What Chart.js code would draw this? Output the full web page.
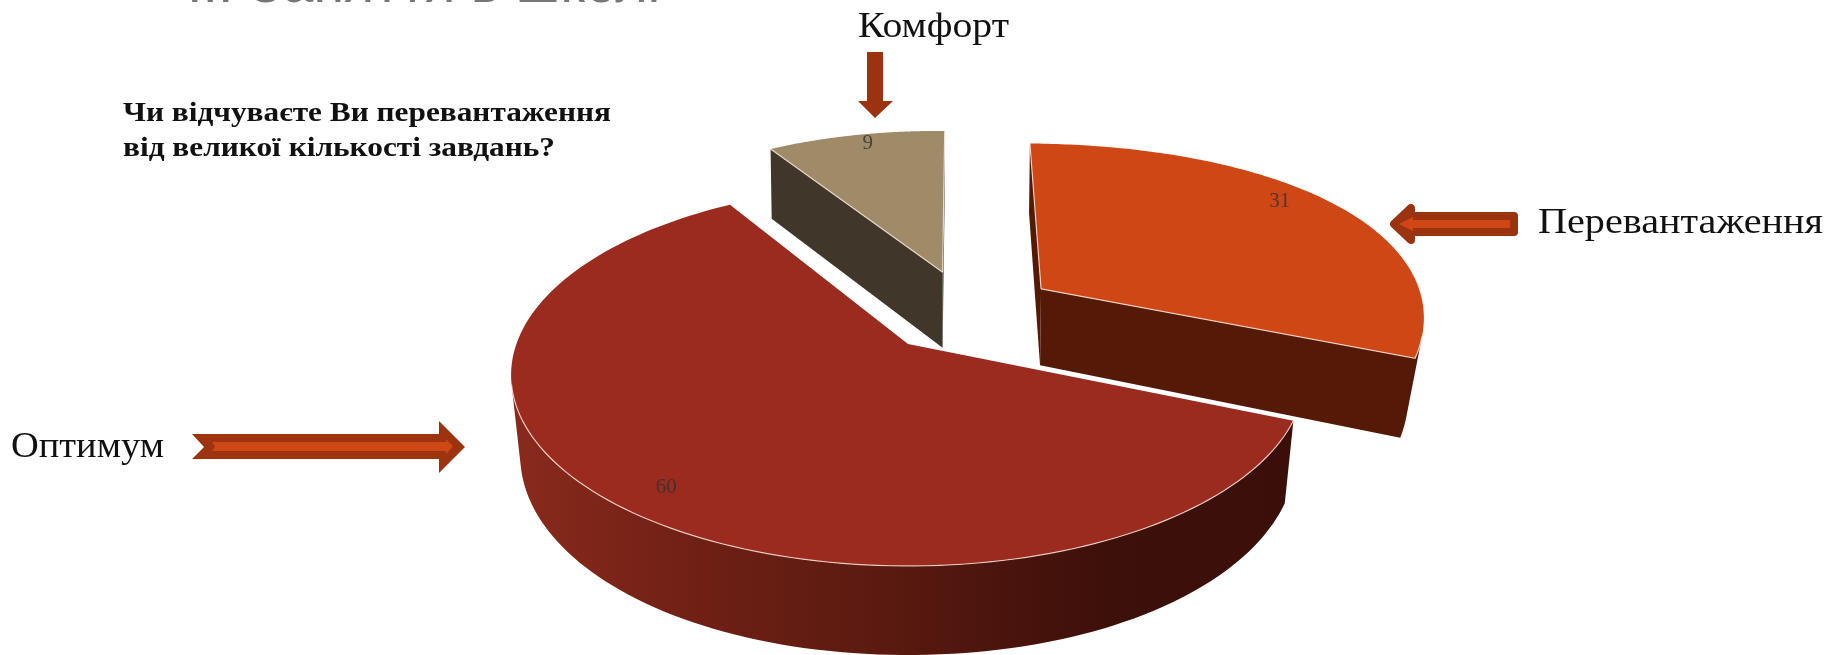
<!DOCTYPE html>
<html lang="uk"><head><meta charset="utf-8">
<style>html,body{margin:0;padding:0;background:#fff}canvas{display:block}</style>
<script src="https://cdn.jsdelivr.net/npm/chart.js@4/dist/chart.umd.min.js"></script>
</head><body><canvas id="c" width="1831" height="655"></canvas>
<script>
const categories = ['Перевантаження', 'Оптимум', 'Комфорт'];
const seriesValues = [31, 60, 9];
const sliceColors = ['#D04716', '#9A2B1E', '#A08B68'];
const wallColors = ['#541A07', '#5A1A10', '#40362A'];
const question = ['Чи відчуваєте Ви перевантаження', 'від великої кількості завдань?'];
const clippedHeading = 'ІІ. Заняття в школі';

// view of the pie's plane: tilt + perspective, and how the lower rim is displaced
const view = {x: 908, y: 344, sx: 391.6, sy: 185.7, k: 0.1634};
const rim = {xv: 908, q: 5.8e-5, d0: 63, dk: 0.046};
const startDeg = 1.2, explode = 70;
const arcBulge = [.04, 0, 0];
const labelTweak = [{r: .925, da: -5}, {r: .877, da: -2.1}, {r: .924, da: 1.3}];
const mainIdx = seriesValues.indexOf(Math.max(...seriesValues));

function frame(chart) {
  const arcs = chart.getDatasetMeta(0).data;
  const dir = a => [Math.cos(a), Math.sin(a)];
  const R = arcs[0].outerRadius;
  const off = arcs.map(el => {
    const d = dir((el.startAngle + el.endAngle) / 2), e = el.options.offset / R;
    return [d[0] * e, d[1] * e];
  });
  const project = (i, a, r) => {
    const d = dir(a);
    const U = off[i][0] + r * d[0] - off[mainIdx][0];
    const V = off[i][1] + r * d[1] - off[mainIdx][1];
    const w = 1 - view.k * V;
    return [view.x + view.sx * U / w, view.y + view.sy * V / w];
  };
  return {arcs, project};
}
const lower = p => {
  const dx = p[0] - rim.xv;
  return [p[0] - rim.q * dx * Math.abs(dx), p[1] + rim.d0 + rim.dk * p[1]];
};
const shoelace = q => q.reduce((s, p, i) => {
  const n = q[(i + 1) % q.length];
  return s + p[0] * n[1] - n[0] * p[1];
}, 0);
function fillPoly(ctx, pts, fill) {
  ctx.beginPath();
  pts.forEach((p, i) => i ? ctx.lineTo(p[0], p[1]) : ctx.moveTo(p[0], p[1]));
  ctx.closePath();
  ctx.fillStyle = fill; ctx.fill();
}
function drawSlice(ctx, f, i) {
  const el = f.arcs[i], N = 140, top = [f.project(i, el.startAngle, 0)];
  for (let n = 0; n <= N; n++) {
    const t = n / N;
    top.push(f.project(i, el.startAngle + (el.endAngle - el.startAngle) * t, 1 + arcBulge[i] * Math.sin(Math.PI * t) ** 2));
  }
  let wall = wallColors[i];
  if (i === mainIdx) {
    wall = ctx.createLinearGradient(511, 0, 1294, 0);
    [[0, '#8A2A1C'], [.24, '#6F2015'], [.48, '#5A1A10'], [.63, '#4A140C'], [.76, '#3D100A'], [1, '#3A0F0A']]
      .forEach(s => wall.addColorStop(s[0], s[1]));
  }
  // group contiguous camera-facing wall segments into single polygons (no seams)
  const runs = []; let run = null;
  top.forEach((a, n) => {
    const b = top[(n + 1) % top.length];
    if (shoelace([a, b, lower(b), lower(a)]) < 0) {
      if (!run) { run = [a]; runs.push(run); }
      run.push(b);
    } else run = null;
  });
  runs.forEach(r => fillPoly(ctx, r.concat(r.map(lower).reverse()), wall));
  fillPoly(ctx, top, el.options.backgroundColor);
  ctx.strokeStyle = 'rgba(255,236,226,.78)'; ctx.lineWidth = 1.2;
  runs.forEach(r => {
    ctx.beginPath();
    r.forEach((p, n) => n ? ctx.lineTo(p[0], p[1]) : ctx.moveTo(p[0], p[1]));
    ctx.stroke();
  });
}
function arrow(ctx, pts, fill, outline, lw) {
  ctx.save(); ctx.lineJoin = 'round';
  ctx.beginPath();
  pts.forEach((p, i) => i ? ctx.lineTo(p[0], p[1]) : ctx.moveTo(p[0], p[1]));
  ctx.closePath();
  if (outline) { ctx.strokeStyle = outline; ctx.lineWidth = lw; ctx.stroke(); }
  ctx.fillStyle = fill; ctx.fill(); ctx.restore();
}
function text(ctx, s, x, y, font, color, w) {
  ctx.save();
  ctx.font = font; ctx.fillStyle = color; ctx.textAlign = 'left'; ctx.textBaseline = 'alphabetic';
  ctx.translate(x, y);
  ctx.scale(w / ctx.measureText(s).width, 1);
  ctx.fillText(s, 0, 0);
  ctx.restore();
}
const pie3d = {
  id: 'pie3d',
  beforeDatasetDraw(chart) {
    const ctx = chart.ctx, f = frame(chart);
    ctx.save();
    [2, 0, 1].forEach(i => drawSlice(ctx, f, i));
    ctx.restore();
    return false;
  },
  afterDraw(chart) {
    const ctx = chart.ctx, f = frame(chart);
    ctx.save();
    // value labels
    ctx.font = '21px "Liberation Serif"'; ctx.fillStyle = 'rgba(50,50,50,.8)';
    ctx.textAlign = 'center'; ctx.textBaseline = 'middle';
    f.arcs.forEach((el, i) => {
      const a = (el.startAngle + el.endAngle) / 2 + labelTweak[i].da * Math.PI / 180;
      const p = f.project(i, a, labelTweak[i].r);
      ctx.fillText(String(seriesValues[i]), p[0], p[1]);
    });
    // callout arrows
    arrow(ctx, [[867,52],[883,52],[883,101],[893,101],[875,118],[858,101],[867,101]], '#9B3210');
    arrow(ctx, [[1394,224],[1411,208],[1411,216],[1514,216],[1514,232],[1411,232],[1411,240]], '#9B3210', '#9B3210', 8);
    arrow(ctx, [[1399,224],[1413,217],[1413,220],[1510,220],[1510,228],[1413,228],[1413,231]], '#D04716');
    arrow(ctx, [[192,434],[439,434],[439,421],[465,447],[439,473],[439,459],[192,459],[204,447]], '#9E3310');
    arrow(ctx, [[212,442],[446,442],[446,439],[453,446.5],[446,454],[446,451],[212,451],[215,446.5]], '#D04716');
    // text
    text(ctx, categories[2], 858, 37, '36px "Liberation Serif"', '#111', 151);
    text(ctx, categories[0], 1538, 233, '36px "Liberation Serif"', '#111', 285);
    text(ctx, categories[1], 11, 457, '36px "Liberation Serif"', '#111', 153);
    text(ctx, question[0], 123, 121, 'bold 28px "Liberation Serif"', '#111', 488);
    text(ctx, question[1], 123, 156, 'bold 28px "Liberation Serif"', '#111', 432);
    text(ctx, clippedHeading, 187, 2, '58px "Liberation Sans"', '#777', 473);
    ctx.restore();
  }
};
new Chart(document.getElementById('c'), {
  type: 'pie',
  data: {labels: categories, datasets: [{
    data: seriesValues, backgroundColor: sliceColors, borderWidth: 0, offset: explode
  }]},
  options: {
    responsive: false, animation: false, rotation: startDeg,
    layout: {padding: 0},
    plugins: {legend: {display: false}, tooltip: {enabled: false}, title: {display: false}}
  },
  plugins: [pie3d]
});
</script></body></html>
